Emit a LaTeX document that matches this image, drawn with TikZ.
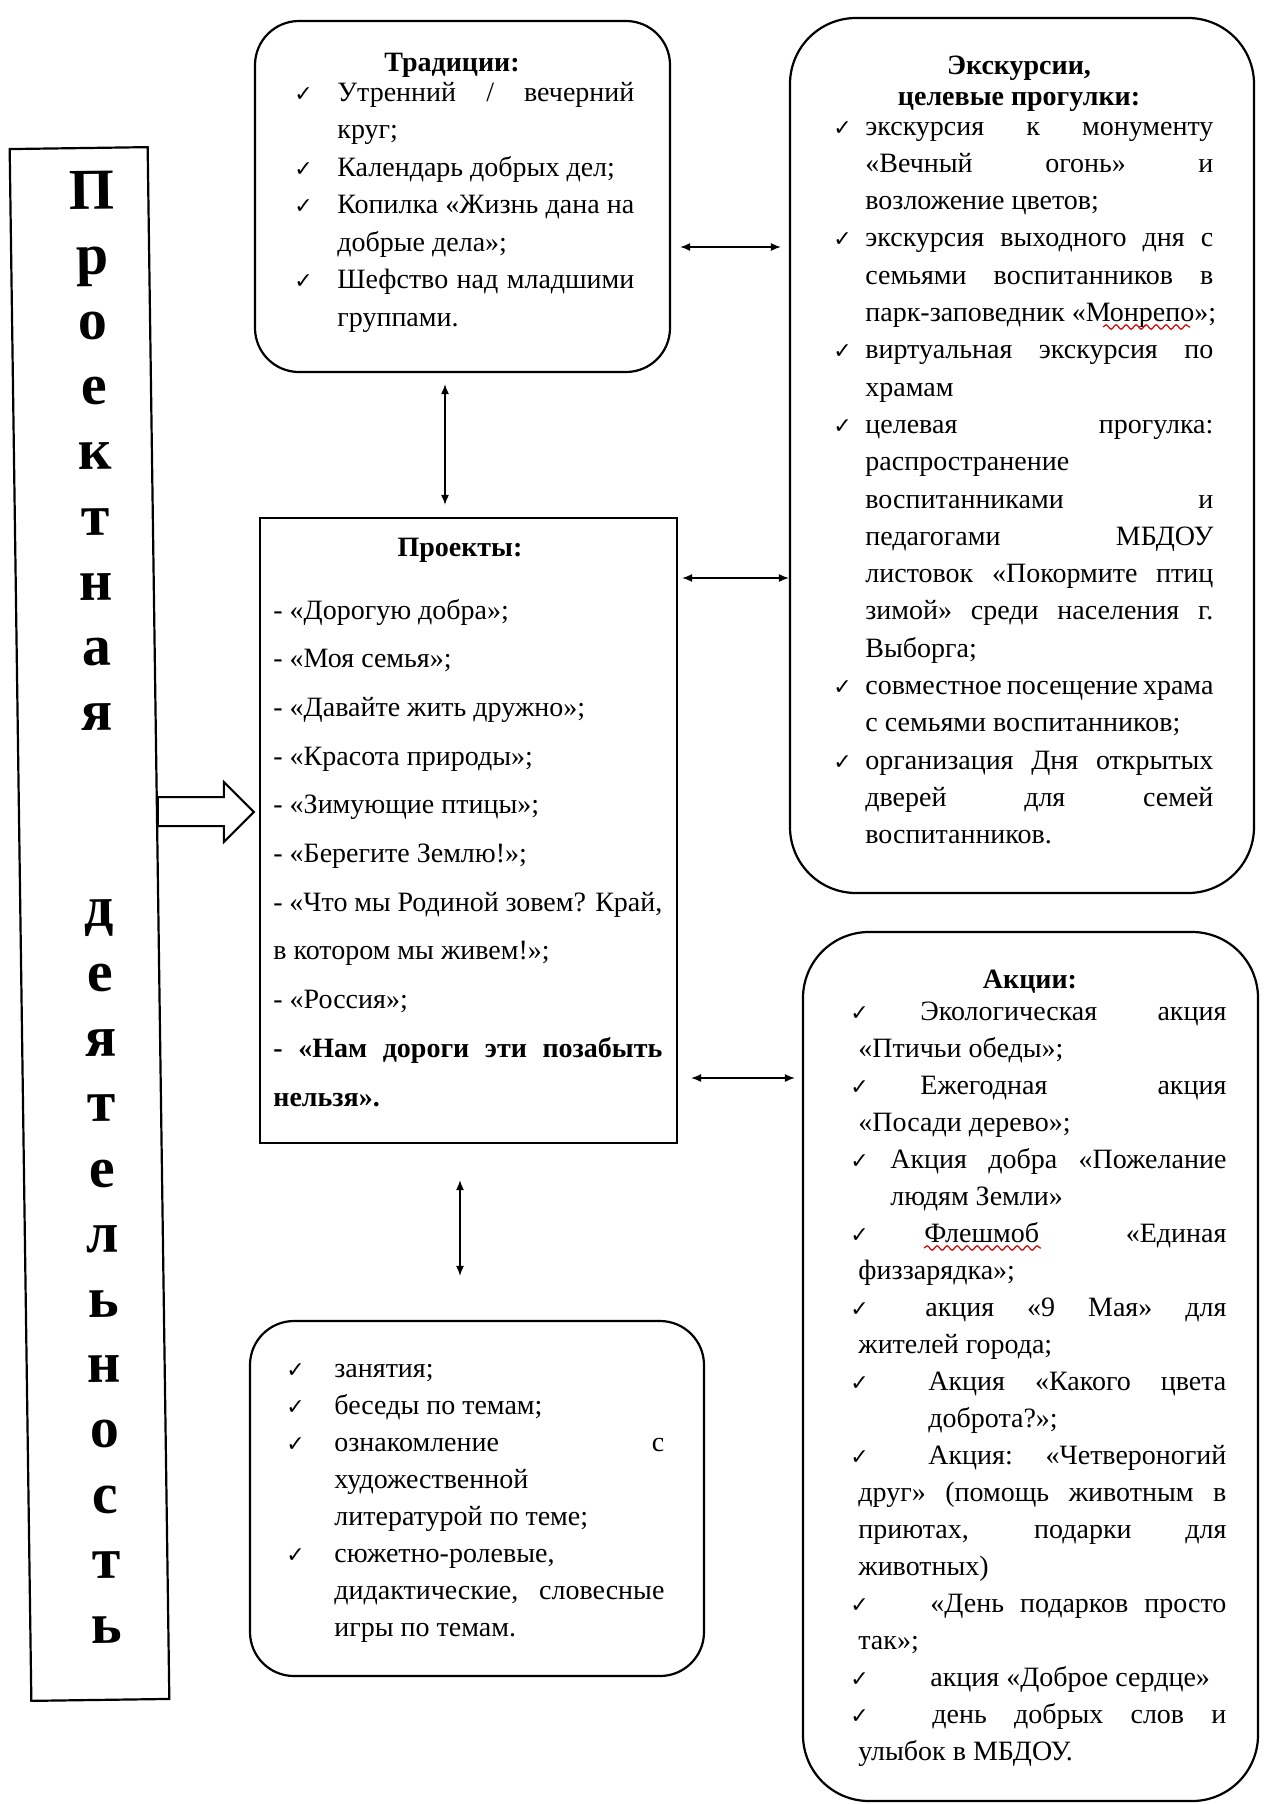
\documentclass[tikz,border=0pt]{standalone}
\usepackage{fontspec}
\setmainfont{Liberation Serif}
\newfontfamily\symf{DejaVu Sans}
\usetikzlibrary{arrows.meta,fit,decorations.pathmorphing,calc}
\newcommand\zck{{\symf\fontsize{11}{11}\selectfont ✓}}
\newcommand\zbx[3]{\parbox[t]{#1}{\fontsize{14}{#2}\selectfont#3}}
\newcommand\zCJ[2]{\makebox[#1][l]{\zck}\makebox[\dimexpr\linewidth-#1\relax][s]{#2}}
\newcommand\zCL[2]{\makebox[#1][l]{\zck}\mbox{#2}}
\newcommand\zIJ[2]{\hspace*{#1}\makebox[\dimexpr\linewidth-#1\relax][s]{#2}}
\newcommand\zIL[2]{\hspace*{#1}\mbox{#2}}
\newcommand\zJJ[1]{\makebox[\linewidth][s]{#1}}
\tikzset{
  box/.style={draw, line width=1.1pt, inner sep=0pt},
  rbox/.style={box, rounded corners=#1},
  link/.style={line width=0.7pt, {Latex[length=5pt,width=4pt]}-{Latex[length=5pt,width=4pt]}},
  txt/.style={anchor=base west, inner sep=0pt},
  ttl/.style={anchor=base, inner sep=0pt, font=\bfseries\fontsize{14}{16}\selectfont},
  blockarrow/.style={draw, line width=1pt, fill=white, line join=miter},
  wavy/.style={red!85!black, line width=0.6pt, decorate, decoration={snake, amplitude=1.1pt, segment length=5pt}}
}
\begin{document}
\begin{tikzpicture}[x=0.5pt,y=-0.5pt]
\useasboundingbox (0,0) rectangle (1268,1804);
\fill[white] (0,0) rectangle (1268,1804);

% boxes
\node[box, rotate=0.8, minimum width=69pt, minimum height=776pt] (pd) at (89.5,924) {};
\node[rbox=22pt, fit={(255,21) (670,372)}] (trad) {};
\node[rbox=33pt, fit={(790,18) (1254,893)}] (exc) {};
\node[box, fit={(260,518) (677,1143)}] (proj) {};
\node[rbox=33pt, fit={(803,932) (1258,1801)}] (akc) {};
\node[rbox=22pt, fit={(250,1321) (704,1676)}] (bot) {};

% vertical title
\node[anchor=base, inner sep=0pt, rotate=0.6] (pdT) at (92,209) {\parbox[t]{60pt}{\centering\bfseries\fontsize{29}{32.6}\selectfont
П\\р\\о\\е\\к\\т\\н\\а\\я\\\mbox{}\\\mbox{}\\д\\е\\я\\т\\е\\л\\ь\\н\\о\\с\\т\\ь}};

% traditions
\node[ttl] (tradH) at (452,71) {Традиции:};
\node[txt] (tradT) at (294,101) {\zbx{170pt}{18.75}{%
\zCJ{21.5pt}{Утренний / вечерний}\\
\zIL{21.5pt}{круг;}\\
\zCL{21.5pt}{Календарь добрых дел;}\\
\zCJ{21.5pt}{Копилка «Жизнь дана на}\\
\zIL{21.5pt}{добрые дела»;}\\
\zCJ{21.5pt}{Шефство над младшими}\\
\zIL{21.5pt}{группами.}}};

% excursions
\node[ttl] (excH) at (1019,74) {\parbox[t]{220pt}{\centering\bfseries\fontsize{14}{15.5}\selectfont Экскурсии,\\целевые прогулки:}};
\node[txt] (excT) at (833,135) {\zbx{190pt}{18.65}{%
\zCJ{16pt}{экскурсия к монументу}\\
\zIJ{16pt}{«Вечный огонь» и}\\
\zIL{16pt}{возложение цветов;}\\
\zCJ{16pt}{экскурсия выходного дня с}\\
\zIJ{16pt}{семьями воспитанников в}\\
\zIL{16pt}{парк-заповедник «Монрепо»;}\\
\zCJ{16pt}{виртуальная экскурсия по}\\
\zIL{16pt}{храмам}\\
\zCJ{16pt}{целевая прогулка:}\\
\zIL{16pt}{распространение}\\
\zIJ{16pt}{воспитанниками и}\\
\zIJ{16pt}{педагогами МБДОУ}\\
\zIJ{16pt}{листовок «Покормите птиц}\\
\zIJ{16pt}{зимой» среди населения г.}\\
\zIL{16pt}{Выборга;}\\
\zCJ{16pt}{совместное посещение храма}\\
\zIL{16pt}{с семьями воспитанников;}\\
\zCJ{16pt}{организация Дня открытых}\\
\zIJ{16pt}{дверей для семей}\\
\zIL{16pt}{воспитанников.}}};

% projects
\node[ttl] (projH) at (460,556) {Проекты:};
\node[txt] (projT) at (273,619) {\zbx{194.5pt}{24.35}{%
- «Дорогую добра»;\\
- «Моя семья»;\\
- «Давайте жить дружно»;\\
- «Красота природы»;\\
- «Зимующие птицы»;\\
- «Берегите Землю!»;\\
\zJJ{- «Что мы Родиной зовем? Край,}\\
в котором мы живем!»;\\
- «Россия»;\\
\zJJ{\bfseries - «Нам дороги эти позабыть}\\
\textbf{нельзя».}}};

% actions
\node[ttl] (akcH) at (1030,988) {Акции:};
\node[txt] (akcT) at (850,1020) {\zbx{188pt}{18.52}{%
\zCJ{35pt}{Экологическая акция}\\
\zIL{4pt}{«Птичьи обеды»;}\\
\zCJ{35pt}{Ежегодная акция}\\
\zIL{4pt}{«Посади дерево»;}\\
\zCJ{20pt}{Акция добра «Пожелание}\\
\zIL{20pt}{людям Земли»}\\
\zCJ{37pt}{Флешмоб «Единая}\\
\zIL{4pt}{физзарядка»;}\\
\zCJ{37.5pt}{акция «9 Мая» для}\\
\zIL{4pt}{жителей города;}\\
\zCJ{39pt}{Акция «Какого цвета}\\
\zIL{39pt}{доброта?»;}\\
\zCJ{39pt}{Акция: «Четвероногий}\\
\zIJ{4pt}{друг» (помощь животным в}\\
\zIJ{4pt}{приютах, подарки для}\\
\zIL{4pt}{животных)}\\
\zCJ{40pt}{«День подарков просто}\\
\zIL{4pt}{так»;}\\
\zCL{40pt}{акция «Доброе сердце»}\\
\zCJ{41pt}{день добрых слов и}\\
\zIL{4pt}{улыбок в МБДОУ.}}};

% bottom box
\node[txt] (botT) at (286,1377) {\zbx{189pt}{18.5}{%
\zCL{24pt}{занятия;}\\
\zCL{24pt}{беседы по темам;}\\
\zCJ{24pt}{ознакомление с}\\
\zIL{24pt}{художественной}\\
\zIL{24pt}{литературой по теме;}\\
\zCL{24pt}{сюжетно-ролевые,}\\
\zIJ{24pt}{дидактические, словесные}\\
\zIL{24pt}{игры по темам.}}};

% spell-check marks
\draw[wavy] (1103,327) -- (1190,327);
\draw[wavy] (924,1248) -- (1041,1248);

% connectors
\coordinate (a1) at ([yshift=-25.25pt]trad.east);
\draw[link, shorten <=4.5pt, shorten >=4pt] (a1) -- (a1 -| exc.west);
\coordinate (a2) at ([xshift=-8.75pt]trad.south);
\draw[link, shorten <=5.5pt, shorten >=6pt] (a2) -- (a2 |- proj.north);
\coordinate (a3) at ([yshift=126.25pt]proj.east);
\draw[link, shorten <=2pt, shorten >=0pt] (a3) -- (a3 -| exc.west);
\coordinate (a4) at ([yshift=-123.75pt]proj.east);
\draw[link, shorten <=6.5pt, shorten >=3.5pt] (a4) -- (a4 -| akc.west);
\coordinate (a5) at ([xshift=-4.25pt]proj.south);
\draw[link, shorten <=18pt, shorten >=22pt] (a5) -- (a5 |- bot.north);

% block arrow from the vertical title box to projects
\coordinate (bt) at ([xshift=-2.5pt,yshift=9.25pt]proj.west);
\draw[blockarrow] (bt) -- ++(-30,-30) -- ++(0,15) -- ++(-66,0) -- ++(0,29) -- ++(66,0) -- ++(0,16) -- cycle;
\end{tikzpicture}
\end{document}
